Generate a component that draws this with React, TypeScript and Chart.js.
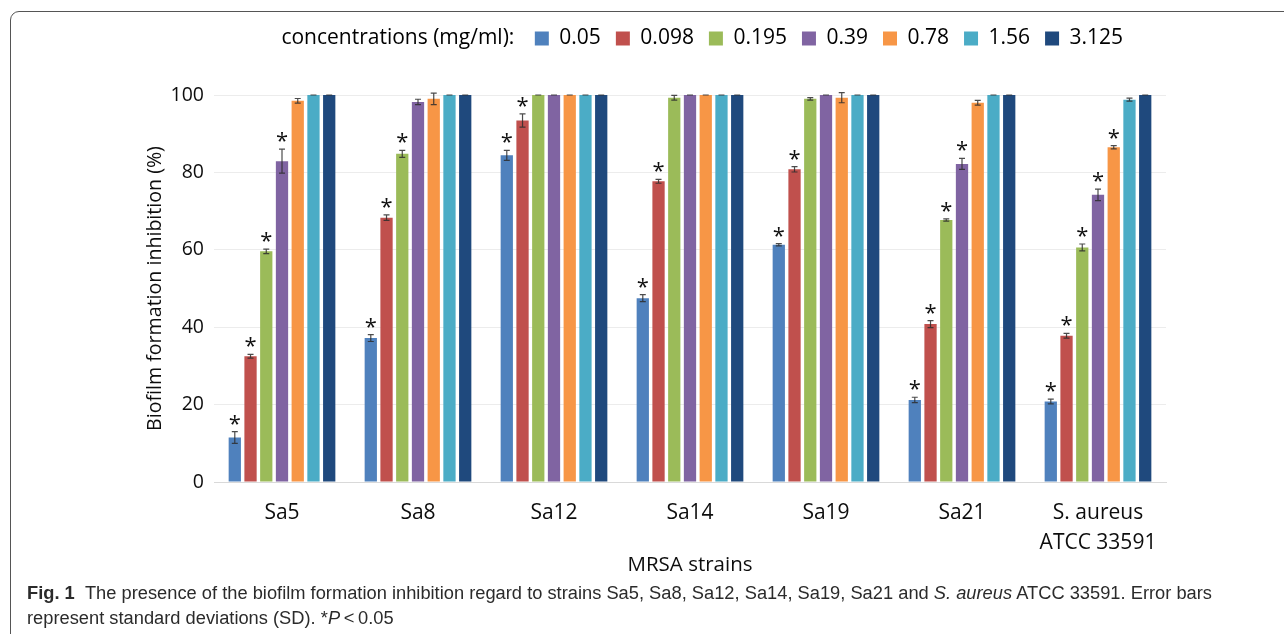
import React, { useEffect, useLayoutEffect, useRef } from "react";
import { Chart, registerables } from "chart.js";

Chart.register(...registerables);

// ---------- data ----------
const STRAINS: (string | string[])[] = ["Sa5", "Sa8", "Sa12", "Sa14", "Sa19", "Sa21", ["S. aureus", "ATCC 33591"]];
const CONCENTRATIONS = ["0.05", "0.098", "0.195", "0.39", "0.78", "1.56", "3.125"];
const LEGEND_PREFIX = "concentrations (mg/ml):\u00a0";
const Y_TITLE = "Biofilm formation inhibition (%)";
const X_TITLE = "MRSA strains";
const Y_TICKS = [0, 20, 40, 60, 80, 100];

const C_005 = [11.5, 37.2, 84.4, 47.5, 61.3, 21.2, 20.8];
const C_0098 = [32.5, 68.3, 93.4, 77.7, 80.8, 40.8, 37.8];
const C_0195 = [59.6, 84.8, 100, 99.3, 99.0, 67.7, 60.6];
const C_039 = [82.9, 98.2, 100, 100, 100, 82.2, 74.2];
const C_078 = [98.5, 99.0, 100, 100, 99.3, 98.0, 86.5];
const C_156 = [100, 100, 100, 100, 100, 100, 98.8];
const C_3125 = [100, 100, 100, 100, 100, 100, 100];

const SD_005 = [1.5, 0.9, 1.3, 0.9, 0.3, 0.7, 0.6];
const SD_0098 = [0.5, 0.7, 1.7, 0.5, 0.7, 0.9, 0.6];
const SD_0195 = [0.6, 0.9, 0, 0.6, 0.3, 0.3, 0.9];
const SD_039 = [3.1, 0.7, 0, 0, 0, 1.4, 1.5];
const SD_078 = [0.6, 1.5, 0, 0, 1.3, 0.6, 0.4];
const SD_156 = [0, 0, 0, 0, 0, 0, 0.4];
const SD_3125 = [0, 0, 0, 0, 0, 0, 0];

const SIG_005 = [1, 1, 1, 1, 1, 1, 1];
const SIG_0098 = [1, 1, 1, 1, 1, 1, 1];
const SIG_0195 = [1, 1, 0, 0, 0, 1, 1];
const SIG_039 = [1, 0, 0, 0, 0, 1, 1];
const SIG_078 = [0, 0, 0, 0, 0, 0, 1];
const SIG_156 = [0, 0, 0, 0, 0, 0, 0];
const SIG_3125 = [0, 0, 0, 0, 0, 0, 0];

const VALUES = [C_005, C_0098, C_0195, C_039, C_078, C_156, C_3125];
const ERRORS = [SD_005, SD_0098, SD_0195, SD_039, SD_078, SD_156, SD_3125];
const SIGNIF = [SIG_005, SIG_0098, SIG_0195, SIG_039, SIG_078, SIG_156, SIG_3125];
const COLORS = ["#4F81BD", "#C0504D", "#9BBB59", "#8064A2", "#F79646", "#4BACC6", "#1F497D"];

const FONT = "'Open Sans', 'Noto Sans', sans-serif";
const TEXT = "#0d0d0d";

// ---------- plugins ----------
const legendSpacer = {
  id: "legendSpacer",
  beforeInit(chart: any) {
    const legend = chart.legend;
    if (!legend) return;
    const origFit = legend.fit;
    legend.fit = function () {
      origFit.call(this);
      this.height += 36;
    };
  },
};

const errorBars = {
  id: "errorBars",
  afterDatasetsDraw(chart: any) {
    const ctx = chart.ctx;
    const yScale = chart.scales.y;
    chart.data.datasets.forEach((ds: any, di: number) => {
      const meta = chart.getDatasetMeta(di);
      if (meta.hidden) return;
      meta.data.forEach((bar: any, i: number) => {
        const v = ds.data[i];
        const sd = ds.errors[i];
        const top = yScale.getPixelForValue(v + sd);
        const bot = yScale.getPixelForValue(v - sd);
        ctx.save();
        ctx.strokeStyle = "rgba(45,45,45,0.85)";
        ctx.lineWidth = 1.2;
        ctx.beginPath();
        ctx.moveTo(bar.x, top);
        ctx.lineTo(bar.x, bot);
        ctx.moveTo(bar.x - 3, top);
        ctx.lineTo(bar.x + 3, top);
        ctx.moveTo(bar.x - 3, bot);
        ctx.lineTo(bar.x + 3, bot);
        ctx.stroke();
        if (ds.significant[i]) {
          ctx.fillStyle = "#111";
          ctx.font = `22px ${FONT}`;
          ctx.textAlign = "center";
          ctx.textBaseline = "alphabetic";
          ctx.fillText("*", bar.x, top - 14 + 13);
        }
        ctx.restore();
      });
    });
  },
};

export default function App() {
  const canvasRef = useRef<HTMLCanvasElement | null>(null);
  const line1Ref = useRef<HTMLDivElement | null>(null);
  const line2Ref = useRef<HTMLDivElement | null>(null);

  useLayoutEffect(() => {
    const l1 = line1Ref.current;
    const l2 = line2Ref.current;
    if (!l1 || !l2) return;
    const w = l1.getBoundingClientRect().width;
    const s = w > 0 ? 1185 / w : 1;
    l1.style.transform = `scaleX(${s})`;
    l2.style.transform = `scaleX(${s})`;
  }, []);

  useEffect(() => {
    if (!canvasRef.current) return;
    const chart = new Chart(canvasRef.current, {
      type: "bar",
      data: {
        labels: STRAINS,
        datasets: CONCENTRATIONS.map((c, i) => ({
          label: c,
          data: VALUES[i],
          errors: ERRORS[i],
          significant: SIGNIF[i],
          backgroundColor: COLORS[i],
          borderWidth: 0,
          categoryPercentage: 0.81,
          barPercentage: 0.78,
        })) as any,
      },
      options: {
        responsive: false,
        animation: false,
        devicePixelRatio: 1,
        layout: { padding: { top: 13, left: 144, right: 118, bottom: 3 } },
        plugins: {
          tooltip: { enabled: false },
          legend: {
            display: true,
            position: "top",
            fullSize: false,
            align: "center",
            onClick: () => {},
            labels: {
              boxWidth: 14,
              boxHeight: 14,
              padding: 15,
              color: TEXT,
              font: { family: FONT, size: 21 },
              generateLabels: (ch: any) => [
                {
                  text: LEGEND_PREFIX,
                  fillStyle: "rgba(0,0,0,0)",
                  strokeStyle: "rgba(0,0,0,0)",
                  lineWidth: 0,
                  hidden: false,
                  datasetIndex: -1,
                },
                ...ch.data.datasets.map((ds: any, i: number) => ({
                  text: ds.label,
                  fillStyle: ds.backgroundColor,
                  strokeStyle: ds.backgroundColor,
                  lineWidth: 0,
                  hidden: !ch.isDatasetVisible(i),
                  datasetIndex: i,
                })),
              ],
            },
          },
        },
        scales: {
          x: {
            grid: { display: false, drawTicks: false },
            border: { display: true, color: "#d9d9d9", width: 1 },
            ticks: {
              color: TEXT,
              font: { family: FONT, size: 21, lineHeight: 1.43 },
              padding: 16,
              maxRotation: 0,
              autoSkip: false,
            },
            title: {
              display: true,
              text: X_TITLE,
              color: TEXT,
              font: { family: FONT, size: 20.5 },
              padding: { top: 0, bottom: 0 },
            },
            afterFit: (scale: any) => {
              scale.height = 95;
            },
          },
          y: {
            min: 0,
            max: 100,
            grid: { color: "#ececec", lineWidth: 1, drawTicks: false },
            border: { display: false },
            afterBuildTicks: (scale: any) => {
              scale.ticks = Y_TICKS.map((v) => ({ value: v }));
            },
            ticks: {
              color: TEXT,
              font: { family: FONT, size: 19.5 },
              padding: 10,
            },
            title: {
              display: true,
              text: Y_TITLE,
              color: TEXT,
              font: { family: FONT, size: 19.6 },
              padding: { top: 0, bottom: 0 },
            },
            afterFit: (scale: any) => {
              scale.width = 70;
            },
          },
        },
      } as any,
      plugins: [legendSpacer, errorBars],
    });
    return () => chart.destroy();
  }, []);

  const capStyle: React.CSSProperties = {
    position: "absolute",
    left: 27,
    whiteSpace: "nowrap",
    fontFamily: "'Liberation Sans Narrow', 'Liberation Sans', Arial, sans-serif",
    fontSize: 18,
    lineHeight: "25px",
    color: "#2b2b2b",
    transformOrigin: "left center",
    display: "inline-block",
  };

  return (
    <div
      style={{
        position: "fixed",
        left: 0,
        top: 0,
        width: 1284,
        height: 634,
        overflow: "hidden",
        background: "#ffffff",
      }}
    >
      <canvas
        ref={canvasRef}
        width={1284}
        height={580}
        style={{ position: "absolute", left: 0, top: 0, width: 1284, height: 580 }}
      />
      <div
        style={{
          position: "absolute",
          left: 10,
          top: 11,
          width: 1300,
          height: 660,
          border: "1.5px solid #555",
          borderRadius: 9,
          pointerEvents: "none",
        }}
      />
      <div ref={line1Ref} style={{ ...capStyle, top: 580.5 }}>
        <b>Fig. 1</b>
        {"\u00a0\u00a0The presence of the biofilm formation inhibition regard to strains Sa5, Sa8, Sa12, Sa14, Sa19, Sa21 and "}
        <i>S. aureus</i>
        {" ATCC 33591. Error bars"}
      </div>
      <div ref={line2Ref} style={{ ...capStyle, top: 605.5 }}>
        {"represent standard deviations (SD). *"}
        <i>P</i>
        {"\u2009<\u20090.05"}
      </div>
    </div>
  );
}
